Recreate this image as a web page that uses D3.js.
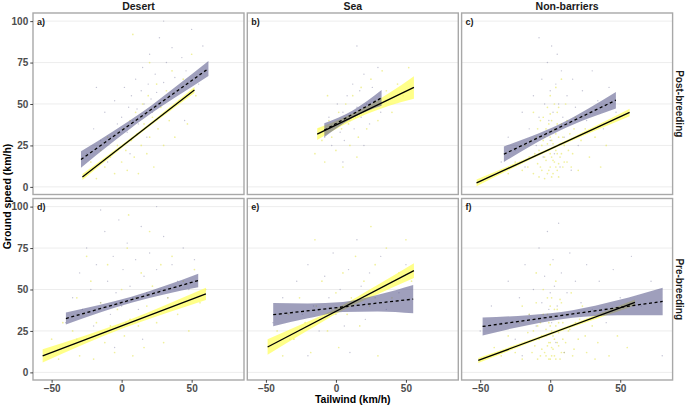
<!DOCTYPE html>
<html><head><meta charset="utf-8">
<script src="https://cdn.jsdelivr.net/npm/d3@7"></script>
<style>body{margin:0;background:#fff}svg{display:block}text{font-family:"Liberation Sans",Arial,sans-serif}</style>
</head><body><svg id="c" width="685" height="407"></svg>
<script>
const columns = ["Desert", "Sea", "Non-barriers"];
const rows = ["Post-breeding", "Pre-breeding"];
const panelLabels = ["a)", "b)", "c)", "d)", "e)", "f)"];
const xTicks = [-50, 0, 50];
const yTicks = [0, 25, 50, 75, 100];
const xTitle = "Tailwind (km/h)";
const yTitle = "Ground speed (km/h)";

// fitted lines [x, y]
const lineGreyA = [[-29, 16.5], [62, 71.4]];
const lineYellowA = [[-28, 6.0], [52, 58.4]];
const lineGreyB = [[-8.3, 34.2], [32.6, 53.7]];
const lineYellowB = [[-13.4, 31.8], [55.7, 60.0]];
const lineGreyC = [[-33.1, 19.7], [46.9, 52.3]];
const lineYellowC = [[-52.6, 2.4], [56.7, 44.9]];
const lineGreyD = [[-39.8, 32.5], [54.7, 55.4]];
const lineYellowD = [[-56.4, 10.0], [60.2, 47.4]];
const lineGreyE = [[-44.8, 34.8], [55.2, 44.2]];
const lineYellowE = [[-48.8, 15.3], [55.7, 61.4]];
const lineGreyF = [[-48.3, 27.7], [80.3, 42.8]];
const lineYellowF = [[-51.4, 7.2], [60.5, 42.2]];

// confidence bands [x, lower, upper]
const bandGreyA = [[-29, 11.5, 21.5], [-6, 27.2, 33.6], [16, 41.3, 45.9], [39, 54.3, 60.7], [62, 66.9, 75.9]];
const bandYellowA = [[-28, 4.2, 7.8], [12, 31.3, 33.1], [52, 56.6, 60.2]];
const bandGreyB = [[-8.3, 30.0, 38.4], [2, 36.3, 41.9], [12, 41.7, 46.1], [22, 45.7, 51.7], [32.6, 48.9, 58.5]];
const bandYellowB = [[-13.4, 28.3, 35.3], [4, 36.7, 41.1], [21, 43.6, 48.0], [38, 49.0, 56.6], [55.7, 53.2, 66.8]];
const bandGreyC = [[-33.1, 15.0, 24.4], [-13, 25.1, 30.7], [7, 34.0, 38.0], [27, 41.2, 47.2], [46.9, 47.3, 57.3]];
const bandYellowC = [[-52.6, 0.4, 4.4], [2, 22.8, 24.4], [56.7, 42.6, 47.2]];
const bandGreyD = [[-39.8, 28.9, 36.1], [-16, 36.0, 40.6], [7, 42.0, 45.6], [31, 47.2, 52.2], [54.7, 51.3, 59.5]];
const bandYellowD = [[-56.4, 6.0, 14.0], [-27, 16.9, 21.9], [2, 26.9, 30.5], [31, 35.5, 40.5], [60.2, 43.7, 51.1]];
const bandGreyE = [[-44.8, 27.8, 41.8], [-20, 32.6, 41.6], [5, 36.5, 42.5], [30, 36.8, 46.8], [55.2, 35.7, 52.7]];
const bandYellowE = [[-48.8, 10.6, 20.0], [-22, 24.3, 29.9], [3, 36.6, 39.8], [29, 46.8, 52.4], [55.7, 56.9, 65.9]];
const bandGreyF = [[-48.3, 22.3, 33.1], [-16, 28.5, 34.5], [16, 32.9, 37.5], [48, 34.5, 43.5], [80.3, 34.5, 51.1]];
const bandYellowF = [[-51.4, 5.7, 8.7], [4.5, 23.9, 25.5], [60.5, 40.4, 44.0]];

// raw observations [x, y]
const ptsGreyA = [[-25,20],[-20,35],[-15,28],[-12,45],[-8,30],[-5,52],[-3,38],[0,42],[2,60],[4,33],[5,48],[7,55],[8,40],[10,65],[11,47],[12,38],[14,58],[15,72],[16,50],[17,44],[19,62],[20,80],[21,53],[22,45],[24,68],[25,57],[27,90],[28,49],[30,63],[32,75],[34,55],[36,84],[38,66],[40,58],[43,78],[46,70],[50,95],[55,62],[58,85],[-18,60],[-10,15],[6,20],[18,30],[30,100],[45,40]];
const ptsYellowA = [[-25,8],[-22,15],[-18,5],[-15,22],[-12,12],[-10,30],[-8,18],[-5,8],[-3,25],[0,15],[1,35],[3,22],[4,10],[6,40],[7,28],[9,18],[10,45],[11,32],[12,8],[14,25],[15,50],[16,38],[18,20],[19,55],[20,30],[22,42],[23,12],[25,62],[26,35],[28,48],[30,25],[32,58],[34,40],[36,70],[38,30],[41,52],[44,65],[47,38],[50,80],[53,55],[8,92],[20,75]];
const ptsGreyB = [[-8,30],[-5,42],[-3,25],[0,38],[1,50],[3,33],[5,45],[6,28],[8,55],[10,40],[12,62],[13,35],[15,48],[17,58],[18,42],[20,68],[22,50],[24,38],[26,60],[28,52],[30,72],[32,45],[15,85],[5,15],[20,25]];
const ptsYellowB = [[-15,20],[-12,35],[-10,28],[-8,15],[-5,40],[-3,30],[0,22],[2,45],[4,35],[5,12],[7,50],[9,38],[10,25],[12,55],[14,42],[16,30],[18,60],[20,48],[22,35],[25,65],[28,52],[30,40],[33,70],[36,58],[40,45],[44,62],[48,55],[52,72],[-6,55],[15,18]];
const ptsGreyC = [[-35,15],[-30,30],[-25,22],[-20,45],[-18,12],[-15,35],[-12,55],[-10,25],[-8,42],[-6,65],[-5,18],[-4,50],[-3,32],[-2,75],[-1,40],[0,58],[0,28],[1,85],[2,45],[3,20],[4,62],[5,35],[6,50],[7,12],[8,70],[9,42],[10,30],[12,55],[14,38],[16,65],[18,48],[20,25],[23,58],[26,40],[30,70],[34,52],[38,35],[42,60],[47,45],[-8,90],[5,80],[15,10]];
const ptsYellowC = [[-30,8],[-25,15],[-20,10],[-18,25],[-15,18],[-12,8],[-10,30],[-9,14],[-8,22],[-7,40],[-6,10],[-5,28],[-4,18],[-3,35],[-2,8],[-2,48],[-1,22],[0,12],[0,30],[0,55],[1,18],[1,40],[2,8],[2,26],[3,35],[3,15],[4,60],[4,22],[5,45],[5,10],[6,30],[7,18],[8,38],[9,12],[10,25],[11,50],[12,15],[14,32],[16,20],[18,42],[20,10],[22,28],[25,35],[28,18],[32,30],[36,12],[40,25],[-12,45],[8,65],[-4,5],[6,6],
  [-11,20],[-9,35],[-7,12],[-6,25],[-5,42],[-4,30],[-3,16],[-2,26],[-1,10],[-1,38],[0,20],[0,44],[1,28],[1,6],[2,34],[2,16],[3,24],[3,50],[4,12],[4,32],[5,20],[5,38],[6,14],[6,48],[7,26],[8,20],[9,30],[10,15],[12,40],[-8,6],[13,22],[-14,28],[15,12],[17,35],[-16,12]];
const ptsGreyD = [[-40,30],[-35,45],[-32,20],[-30,60],[-28,38],[-25,75],[-22,50],[-20,28],[-18,65],[-15,42],[-12,85],[-10,55],[-8,35],[-6,70],[-4,48],[-2,92],[0,40],[1,62],[3,30],[4,78],[6,52],[8,45],[10,68],[12,38],[14,88],[16,58],[18,48],[20,72],[22,35],[25,62],[28,50],[30,82],[33,45],[36,65],[40,55],[44,75],[48,50],[52,68],[-5,15],[15,20],[-15,98],[25,100]];
const ptsYellowD = [[-55,10],[-50,20],[-45,8],[-42,30],[-38,15],[-35,25],[-32,45],[-30,10],[-27,35],[-25,20],[-22,55],[-20,8],[-18,30],[-15,42],[-12,18],[-10,65],[-8,28],[-5,12],[-3,38],[0,50],[2,22],[4,75],[6,32],[8,10],[10,45],[12,28],[14,60],[16,15],[18,40],[20,85],[22,52],[25,30],[28,65],[30,18],[33,45],[36,70],[40,35],[44,55],[48,25],[52,62],[56,42],[60,50],[5,95],[-25,70]];
const ptsGreyE = [[-45,30],[-38,45],[-33,20],[-28,55],[-24,35],[-20,65],[-16,40],[-12,25],[-8,58],[-5,45],[-2,72],[0,35],[3,50],[6,28],[9,62],[12,42],[15,80],[18,52],[21,32],[24,60],[28,45],[32,70],[36,38],[40,55],[45,48],[50,65],[-20,10],[10,12]];
const ptsYellowE = [[-48,15],[-42,25],[-38,10],[-34,35],[-30,20],[-26,45],[-22,30],[-18,12],[-14,40],[-10,55],[-6,25],[-3,38],[0,48],[2,15],[5,60],[8,35],[11,45],[14,70],[17,28],[20,55],[24,40],[28,65],[32,50],[36,75],[40,45],[45,60],[50,80],[54,55],[-15,80],[25,88],[30,10]];
const ptsGreyF = [[-50,25],[-42,40],[-35,30],[-30,55],[-25,20],[-22,45],[-18,65],[-15,35],[-12,50],[-10,28],[-8,75],[-6,42],[-4,58],[-3,22],[-2,85],[-1,38],[0,48],[1,30],[2,68],[3,52],[4,18],[5,40],[6,90],[8,60],[10,35],[12,48],[14,72],[16,28],[18,55],[22,42],[26,65],[30,38],[35,55],[40,30],[45,62],[50,45],[58,70],[65,40],[72,55],[80,10],[-20,10],[10,12]];
const ptsYellowF = [[-48,8],[-40,15],[-35,10],[-30,22],[-25,12],[-22,30],[-20,8],[-18,18],[-15,35],[-13,12],[-12,25],[-10,42],[-9,8],[-8,20],[-7,30],[-6,14],[-5,50],[-4,22],[-3,10],[-2,35],[-1,18],[0,28],[0,8],[1,45],[1,15],[2,22],[3,38],[3,10],[4,55],[5,18],[6,30],[7,8],[8,42],[9,20],[10,12],[12,35],[13,25],[15,48],[16,10],[18,30],[20,20],[23,40],[26,12],[30,28],[34,18],[38,35],[42,10],[48,22],[55,15],[0,65],[-10,60],
  [-11,16],[-9,28],[-7,10],[-6,22],[-5,35],[-4,12],[-3,26],[-2,16],[-2,45],[-1,8],[-1,30],[0,18],[0,40],[1,25],[1,10],[2,32],[2,14],[3,20],[4,28],[4,8],[5,38],[6,16],[6,24],[7,44],[8,12],[9,30],[11,18],[14,26],[17,14],[21,32],[-16,24],[-20,40],[25,22],[-28,15],[32,8]];

const panels = [
  {r:0,c:0,lg:lineGreyA,ly:lineYellowA,bg:bandGreyA,by:bandYellowA,pg:ptsGreyA,py:ptsYellowA},
  {r:0,c:1,lg:lineGreyB,ly:lineYellowB,bg:bandGreyB,by:bandYellowB,pg:ptsGreyB,py:ptsYellowB},
  {r:0,c:2,lg:lineGreyC,ly:lineYellowC,bg:bandGreyC,by:bandYellowC,pg:ptsGreyC,py:ptsYellowC},
  {r:1,c:0,lg:lineGreyD,ly:lineYellowD,bg:bandGreyD,by:bandYellowD,pg:ptsGreyD,py:ptsYellowD},
  {r:1,c:1,lg:lineGreyE,ly:lineYellowE,bg:bandGreyE,by:bandYellowE,pg:ptsGreyE,py:ptsYellowE},
  {r:1,c:2,lg:lineGreyF,ly:lineYellowF,bg:bandGreyF,by:bandYellowF,pg:ptsGreyF,py:ptsYellowF}
];

const svg = d3.select("#c");
const left0 = 33, top0 = 13, pw = 211, ph = 181.5, colStep = 214.3, rowStep = 185.5;
const xDomain = [-63.3, 87.4], yDomain = [-4.6, 104.9];

const fontB = "bold";
panels.forEach((p, i) => {
  const x0 = left0 + p.c * colStep, y0 = top0 + p.r * rowStep;
  const x = d3.scaleLinear().domain(xDomain).range([x0, x0 + pw]);
  const y = d3.scaleLinear().domain(yDomain).range([y0 + ph, y0]);
  const g = svg.append("g");
  const clipId = "clip" + i;
  g.append("clipPath").attr("id", clipId).append("rect").attr("x", x0).attr("y", y0).attr("width", pw).attr("height", ph);
  const inner = g.append("g").attr("clip-path", `url(#${clipId})`);
  inner.selectAll("line.grid").data(yTicks).join("line")
    .attr("x1", x0).attr("x2", x0 + pw).attr("y1", d => y(d)).attr("y2", d => y(d))
    .attr("stroke", "#ebebeb").attr("stroke-width", 0.9);
  inner.selectAll("circle.py").data(p.py).join("circle")
    .attr("cx", d => x(d[0])).attr("cy", d => y(d[1])).attr("r", 0.85)
    .attr("fill", "#e6e65a").attr("opacity", 0.6);
  inner.selectAll("circle.pg").data(p.pg).join("circle")
    .attr("cx", d => x(d[0])).attr("cy", d => y(d[1])).attr("r", 0.7)
    .attr("fill", "#8a8aaa").attr("opacity", 0.5);
  const area = d3.area().x(d => x(d[0])).y0(d => y(d[1])).y1(d => y(d[2])).curve(d3.curveMonotoneX);
  inner.append("path").attr("d", area(p.by)).attr("fill", "#ffff5c").attr("opacity", 0.72);
  inner.append("path").attr("d", area(p.bg)).attr("fill", "#5f5f8f").attr("opacity", 0.6);
  const line = d3.line().x(d => x(d[0])).y(d => y(d[1]));
  inner.append("path").attr("d", line(p.ly)).attr("fill", "none").attr("stroke", "#000").attr("stroke-width", 1.3);
  inner.append("path").attr("d", line(p.lg)).attr("fill", "none").attr("stroke", "#000").attr("stroke-width", 1.3).attr("stroke-dasharray", "3,2.6");
  g.append("rect").attr("x", x0).attr("y", y0).attr("width", pw).attr("height", ph)
    .attr("fill", "none").attr("stroke", "#a8a8a8").attr("stroke-width", 1.4);
  g.append("text").attr("x", x0 + 4).attr("y", y0 + 11.5).attr("font-size", 9).attr("font-weight", fontB).attr("fill", "#1a1a1a").text(panelLabels[i]);
  if (p.c === 0) {
    const ax = g.append("g").attr("transform", `translate(${x0},0)`).call(d3.axisLeft(y).tickValues(yTicks).tickSize(2.75).tickPadding(2));
    ax.select(".domain").remove();
    ax.selectAll(".tick line").attr("stroke", "#333").attr("stroke-width", 0.9);
    ax.selectAll(".tick text").attr("font-size", 10).attr("font-weight", fontB).attr("fill", "#4d4d4d").attr("font-family", "Liberation Sans, Arial, sans-serif");
  }
  if (p.r === 1) {
    const ax = g.append("g").attr("transform", `translate(0,${y0 + ph})`).call(d3.axisBottom(x).tickValues(xTicks).tickSize(2.75).tickPadding(2));
    ax.select(".domain").remove();
    ax.selectAll(".tick line").attr("stroke", "#333").attr("stroke-width", 0.9);
    ax.selectAll(".tick text").attr("font-size", 10).attr("font-weight", fontB).attr("fill", "#4d4d4d").attr("font-family", "Liberation Sans, Arial, sans-serif");
  }
  if (p.r === 0) {
    svg.append("text").attr("x", x0 + pw / 2).attr("y", 9.5).attr("text-anchor", "middle")
      .attr("font-size", 10.5).attr("font-weight", fontB).attr("fill", "#1a1a1a").text(columns[p.c]);
  }
  if (p.c === 2) {
    svg.append("text").attr("transform", `translate(${x0 + pw + 3},${y0 + ph / 2}) rotate(90)`).attr("text-anchor", "middle")
      .attr("font-size", 10).attr("font-weight", fontB).attr("fill", "#1a1a1a").text(rows[p.r]);
  }
});
svg.append("text").attr("x", left0 + (2 * colStep + pw) / 2).attr("y", 403).attr("text-anchor", "middle")
  .attr("font-size", 10.5).attr("font-weight", fontB).attr("fill", "#000").text(xTitle);
svg.append("text").attr("transform", `translate(11,${top0 + (rowStep + ph) / 2}) rotate(-90)`).attr("text-anchor", "middle")
  .attr("font-size", 10.5).attr("font-weight", fontB).attr("fill", "#000").text(yTitle);
</script></body></html>
